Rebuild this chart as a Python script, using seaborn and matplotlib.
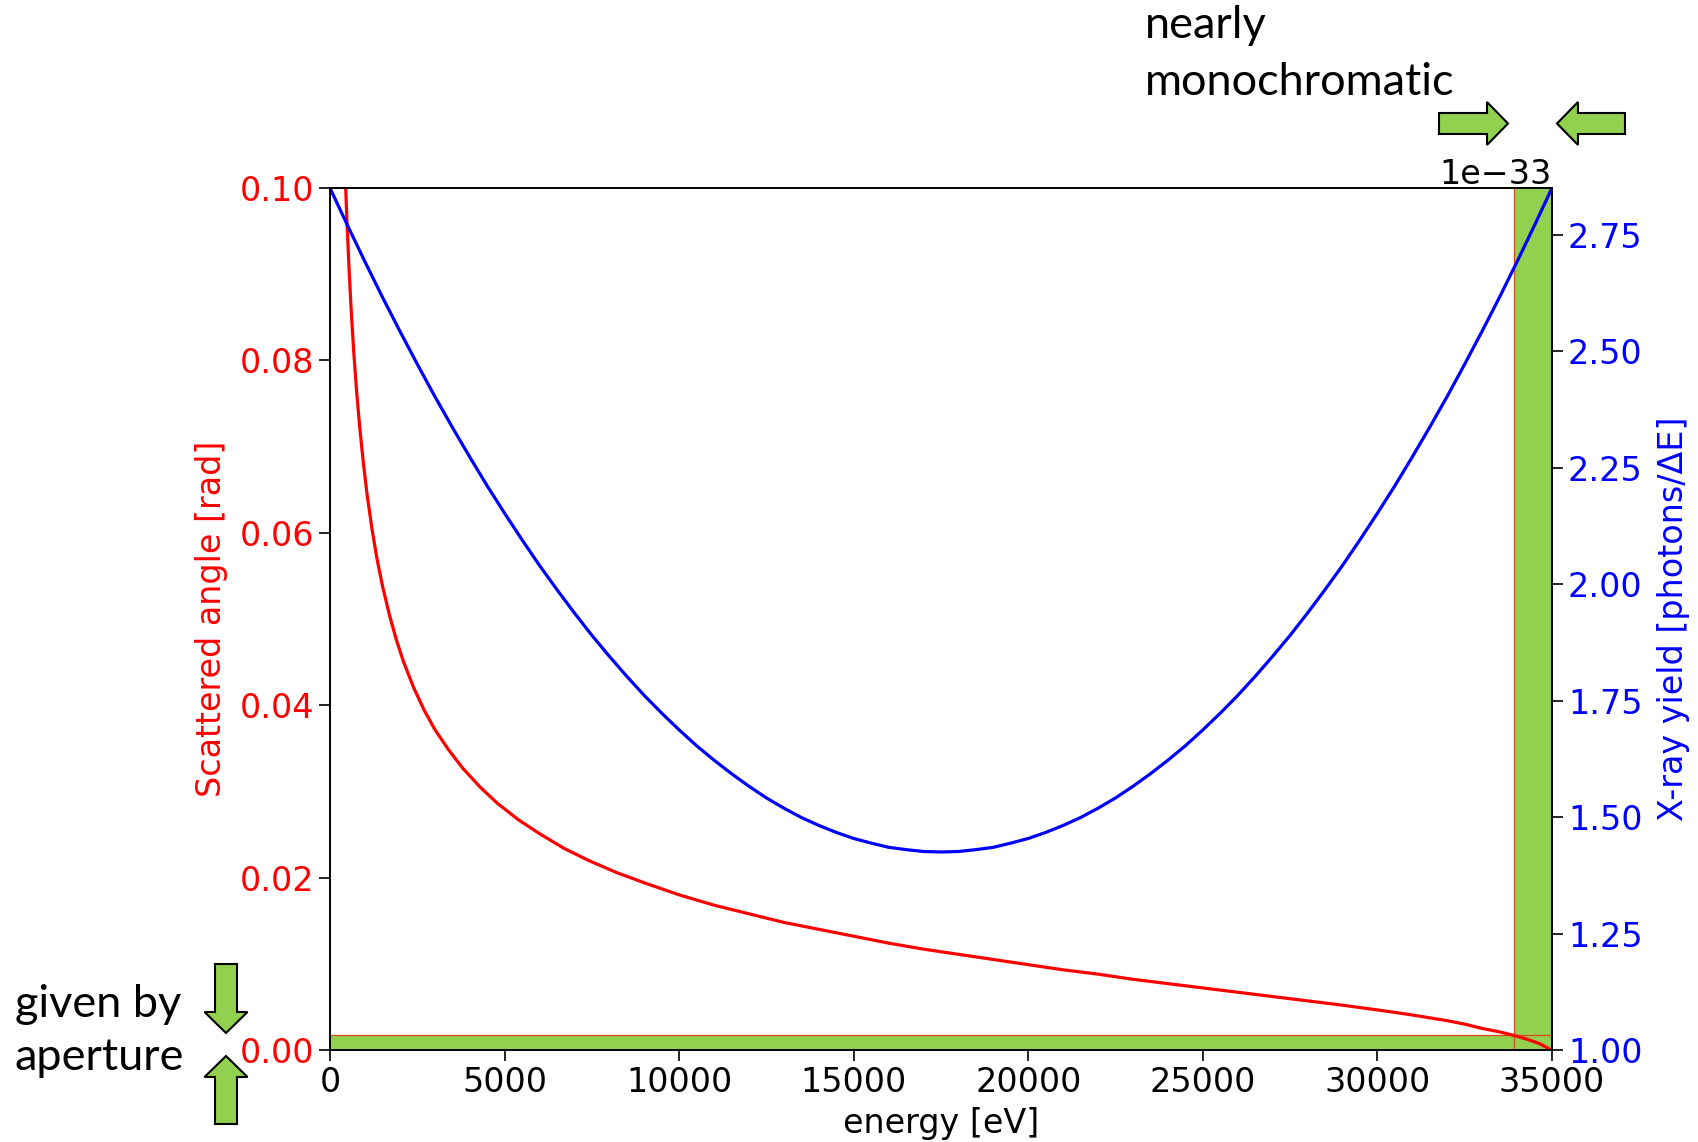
import numpy as np
import matplotlib
matplotlib.use("Agg")
import matplotlib.pyplot as plt
from matplotlib.patches import Polygon
import seaborn as sns

# Scattered angle [rad] versus photon energy [eV]
energy_angle = [430, 480, 540, 600, 680, 760, 850, 950, 1060, 1200, 1350,
                1500, 1700, 1900, 2100, 2400, 2700, 3000, 3400, 3800, 4300,
                4800, 5400, 6000, 6700, 7400, 8200, 9000, 10000, 11000, 12000,
                13000, 14000, 15000, 16000, 17000, 18000, 19000, 20000, 21000,
                22000, 23000, 24000, 25000, 26000, 27000, 28000, 29000, 30000,
                30500, 31000, 31500, 32000, 32500, 33000, 33500, 33900, 34200,
                34450, 34650, 34800, 34900, 34950]
angle = [0.1022, 0.0967, 0.0911, 0.0863, 0.0810, 0.0765, 0.0723, 0.0683,
         0.0645, 0.0605, 0.0569, 0.0539, 0.0505, 0.0476, 0.0451, 0.0420,
         0.0394, 0.0372, 0.0348, 0.0327, 0.0305, 0.0286, 0.0267, 0.0251,
         0.0234, 0.0220, 0.0206, 0.0194, 0.0180, 0.0168, 0.0158, 0.0148,
         0.0140, 0.0132, 0.0124, 0.0117, 0.0111, 0.0105, 0.0099, 0.0093,
         0.0088, 0.0082, 0.0077, 0.0072, 0.0067, 0.0062, 0.0057, 0.0052,
         0.00465, 0.00436, 0.00406, 0.00373, 0.0034, 0.0030, 0.0025, 0.0021,
         0.0017, 0.00135, 0.00102, 0.00072, 0.00040, 0.00018, 0.0]

# X-ray yield [photons/dE], in units of 1e-33
energy_yield = list(range(0, 35001, 500))
yield_e33 = [2.850, 2.770, 2.692, 2.616, 2.543, 2.472, 2.403, 2.337, 2.273,
             2.211, 2.152, 2.095, 2.040, 1.988, 1.938, 1.890, 1.845, 1.802,
             1.761, 1.723, 1.687, 1.653, 1.622, 1.593, 1.566, 1.541, 1.519,
             1.499, 1.482, 1.467, 1.454, 1.444, 1.435, 1.430, 1.426, 1.425,
             1.426, 1.430, 1.435, 1.444, 1.454, 1.467, 1.482, 1.499, 1.519,
             1.541, 1.566, 1.593, 1.622, 1.653, 1.687, 1.723, 1.761, 1.802,
             1.845, 1.890, 1.938, 1.988, 2.040, 2.095, 2.152, 2.211, 2.273,
             2.337, 2.403, 2.472, 2.543, 2.616, 2.692, 2.770, 2.850]
YIELD_UNIT = 1e-33

# acceptance window
aperture_angle = 0.0017
cutoff_energy = 33900
energy_max = 35000

x_ticks = [0, 5000, 10000, 15000, 20000, 25000, 30000, 35000]
angle_ticks = [0.00, 0.02, 0.04, 0.06, 0.08, 0.10]
yield_ticks = [1.00, 1.25, 1.50, 1.75, 2.00, 2.25, 2.50, 2.75]

GREEN = "#92D050"
TICK_FS = 24
NOTE_FS = 32.5

W, H = 1699, 1142
fig = plt.figure(figsize=(W / 100, H / 100), dpi=100)
ax = fig.add_axes([330 / W, 1 - 1050 / H, 1222 / W, 862 / H])

# shaded acceptance bands
ax.axhspan(0, aperture_angle, color=GREEN, lw=0, zorder=1)
ax.axvspan(cutoff_energy, energy_max, color=GREEN, lw=0, zorder=1)
ax.axhline(aperture_angle, color="red", lw=1.0, alpha=0.6, zorder=1.5)
ax.axvline(cutoff_energy, color="red", lw=1.0, alpha=0.6, zorder=1.5)

sns.lineplot(x=energy_angle, y=angle, ax=ax, color="red", lw=2.3,
             sort=False, zorder=3)

ax2 = ax.twinx()
sns.lineplot(x=energy_yield, y=np.array(yield_e33) * YIELD_UNIT, ax=ax2,
             color="blue", lw=2.3, sort=False)

ax.set_xlim(0, energy_max)
ax.set_ylim(0, 0.1)
ax2.set_ylim(1.0 * YIELD_UNIT, 2.85 * YIELD_UNIT)
ax.set_xticks(x_ticks)
ax.set_yticks(angle_ticks)
ax2.set_yticks(np.array(yield_ticks) * YIELD_UNIT)

ax.set_xlabel("energy [eV]", fontsize=TICK_FS, labelpad=6)
ax.set_ylabel("Scattered angle [rad]", fontsize=TICK_FS, color="red",
              labelpad=8)
ax2.set_ylabel("X-ray yield [photons/ΔE]", fontsize=TICK_FS, color="blue",
               labelpad=10.5)

ax.tick_params(axis="both", labelsize=TICK_FS, length=8, width=1.2)
ax.tick_params(axis="y", labelcolor="red")
ax2.tick_params(axis="y", labelsize=TICK_FS, length=8, width=1.2,
                labelcolor="blue")
off = ax2.yaxis.get_offset_text()
off.set_fontsize(TICK_FS)
off.set_color("black")

for a in (ax, ax2):
    for s in a.spines.values():
        s.set_linewidth(1.2)
        s.set_color("black")


def block_arrow(tail, tip, body_half, head_half, head_len):
    """Outlined block arrow given in pixel coordinates (origin top-left)."""
    t = np.array(tail, float)
    p = np.array(tip, float)
    d = (p - t) / np.linalg.norm(p - t)
    n = np.array([-d[1], d[0]])
    base = p - d * head_len
    pts = [t + n * body_half, base + n * body_half, base + n * head_half, p,
           base - n * head_half, base - n * body_half, t - n * body_half]
    pts = [(x / W, 1 - y / H) for x, y in pts]
    fig.add_artist(Polygon(pts, closed=True, transform=fig.transFigure,
                           facecolor=GREEN, edgecolor="black", lw=1.5,
                           clip_on=False))


block_arrow((1439, 123.5), (1508, 123.5), 10.5, 21.5, 21)
block_arrow((1625, 123.5), (1557, 123.5), 10.5, 21.5, 21)
block_arrow((226, 964), (226, 1033), 11, 21.5, 21)
block_arrow((226, 1124), (226, 1056), 11, 21.5, 21)

note = dict(fontsize=NOTE_FS, family=["Lato", "DejaVu Sans"], color="black",
            va="baseline", ha="left")
fig.text(1145 / W, 1 - 38 / H, "nearly", **note)
fig.text(1145 / W, 1 - 95 / H, "monochromatic", **note)
fig.text(15 / W, 1 - 1017 / H, "given by", **note)
fig.text(15 / W, 1 - 1070 / H, "aperture", **note)

fig.savefig("out.png", dpi=100, facecolor="white")
